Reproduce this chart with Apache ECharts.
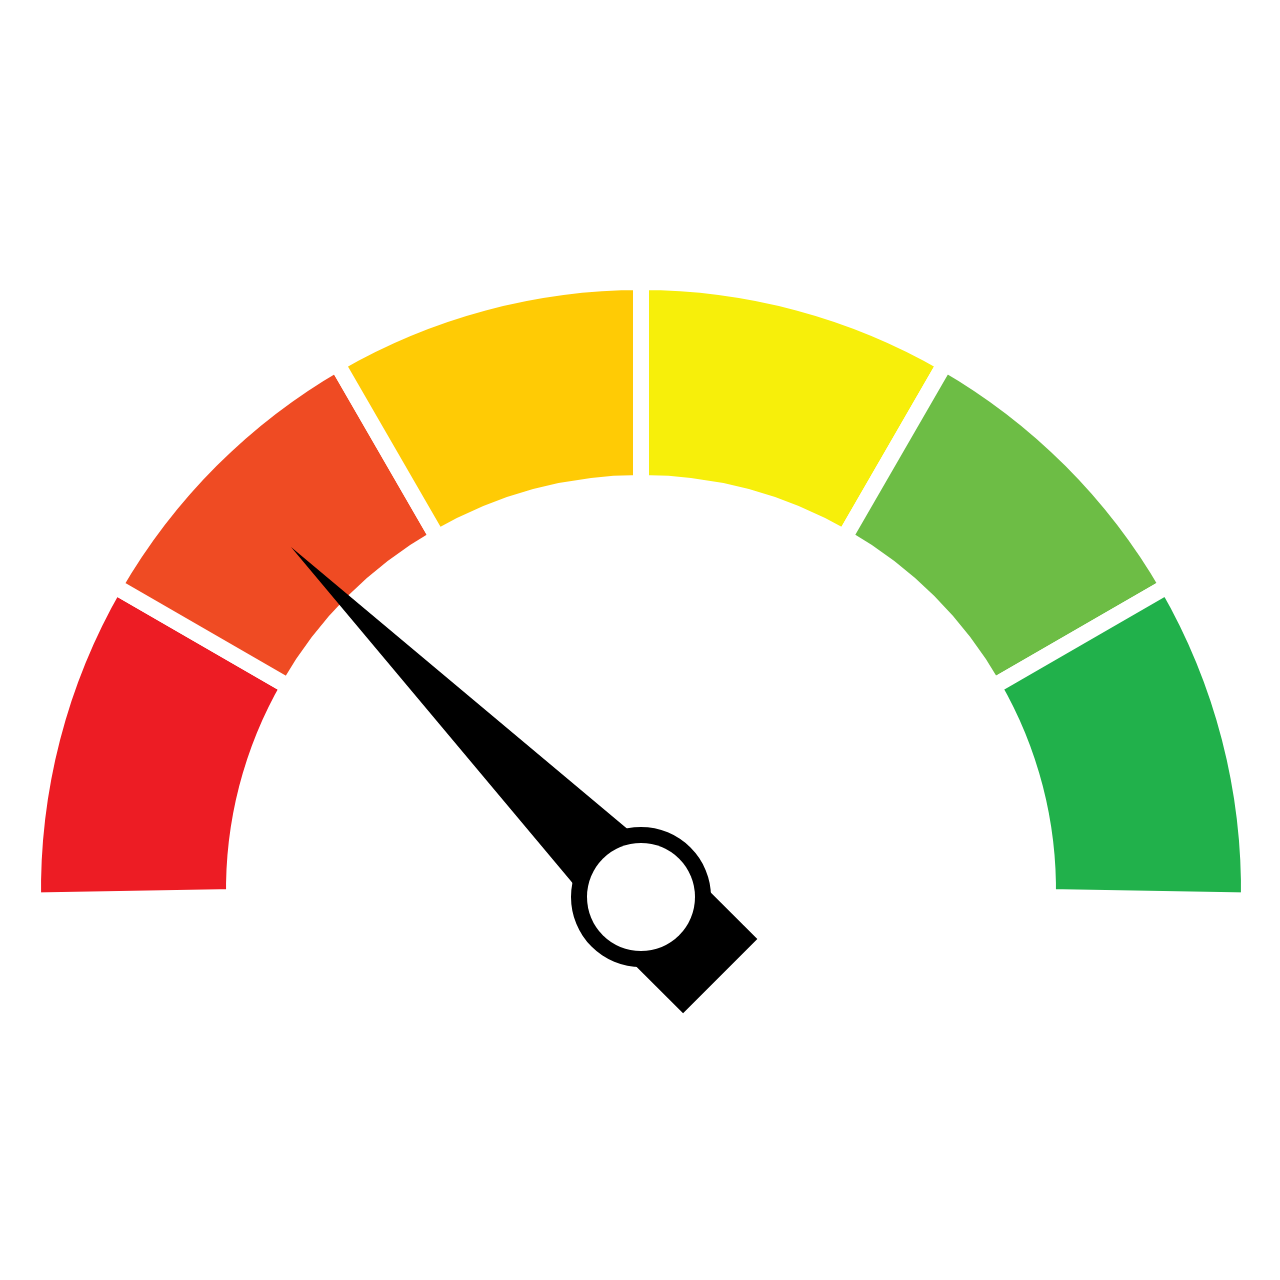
<!DOCTYPE html>
<html><head><meta charset="utf-8">
<style>html,body{margin:0;padding:0;background:#fff}#c{width:1280px;height:1280px}</style>
<script src="https://cdn.jsdelivr.net/npm/echarts@6/dist/echarts.min.js"></script>
</head><body><div id="c"></div>
<script>
const bandNames = ['Band 1','Band 2','Band 3','Band 4','Band 5','Band 6'];
const bandSpans = [31,30,30,30,30,31];
const bandColors = ['#ED1C24','#EF4B23','#FFCB05','#F7EF0A','#6DBD45','#21B14B'];
const gaugeValue = [25];
const chart = echarts.init(document.getElementById('c'),null,{renderer:'canvas'});
chart.setOption({
  animation:false,
  backgroundColor:'#fff',
  series:[
    {type:'pie',z:1,center:[641,890],radius:[407,608],startAngle:181,endAngle:-1,silent:true,
     label:{show:false},labelLine:{show:false},
     itemStyle:{borderColor:'#fff',borderWidth:16},
     data:bandNames.map((n,i)=>({name:n,value:bandSpans[i],itemStyle:{color:bandColors[i]}}))},
    {type:'gauge',z:5,center:[641,897],radius:600,startAngle:180,endAngle:0,min:0,max:100,silent:true,
     axisLine:{show:false},splitLine:{show:false},axisTick:{show:false},axisLabel:{show:false},
     title:{show:false},detail:{show:false},
     pointer:{show:true,showAbove:true,
       icon:'path://M52.5 0L91 437L91 495L105 540L105 607L0 607L0 540L14 495L14 437Z',
       length:607,width:105,offsetCenter:[0,112],itemStyle:{color:'#000'}},
     anchor:{show:false},
     data:[{value:gaugeValue[0]}]},
    {type:'pie',z:6,center:[641,897],radius:[53,70],silent:true,label:{show:false},labelLine:{show:false},
     itemStyle:{color:'#000'},data:[{name:'Hub ring',value:1}]},
    {type:'pie',z:7,center:[641,897],radius:[0,54],silent:true,label:{show:false},labelLine:{show:false},
     itemStyle:{color:'#fff'},data:[{name:'Hub',value:1}]}
  ]
});
</script></body></html>
